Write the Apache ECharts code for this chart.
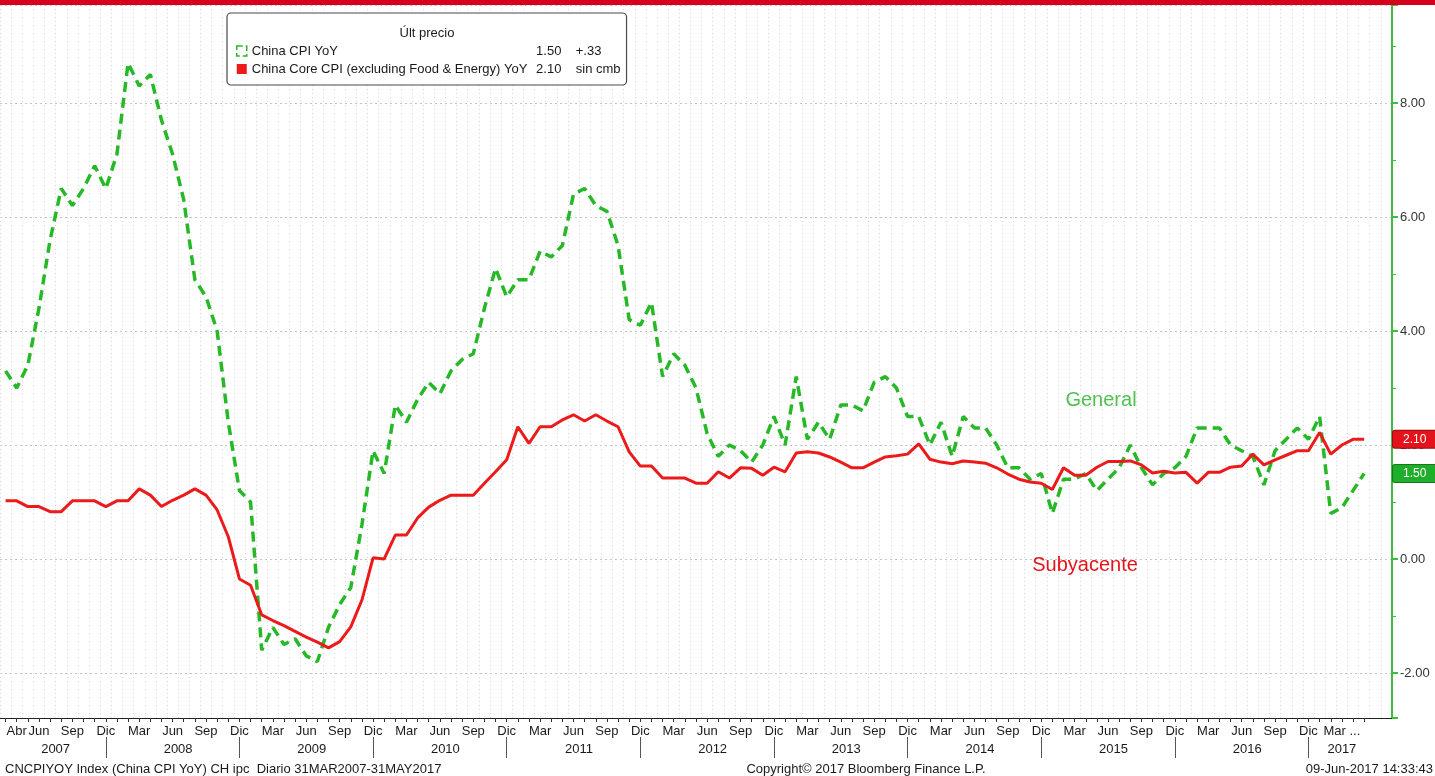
<!DOCTYPE html>
<html>
<head>
<meta charset="utf-8">
<title>China CPI YoY</title>
<script src="https://cdn.jsdelivr.net/npm/echarts@6/dist/echarts.min.js"></script>
<style>
  html, body { margin: 0; padding: 0; background: #fff; }
  #chart { width: 1435px; height: 776px; }
</style>
</head>
<body>
<div id="chart"></div>
<script>
// meses: mar-2007 .. jul-2017 (jun/jul 2017 sin dato, solo hueco antes del eje)
const years = ["2007", "2008", "2009", "2010", "2011", "2012", "2013", "2014", "2015", "2016", "2017"];
const monthNames = ["Ene", "Feb", "Mar", "Abr", "May", "Jun", "Jul", "Ago", "Sep", "Oct", "Nov", "Dic"];
const months = [];
years.forEach(y => {
  for (let m = 1; m <= 12; m++) {
    if ((y === "2007" && m < 3) || (y === "2017" && m > 7)) continue;
    months.push(y + "-" + String(m).padStart(2, "0"));
  }
});

// China CPI YoY
const cpi = [
  3.3, 3.0, 3.4, 4.4, 5.6, 6.5, 6.2, 6.5, 6.9, 6.5,
  7.1, 8.7, 8.3, 8.5, 7.7, 7.1, 6.3, 4.9, 4.6, 4.0, 2.4, 1.2,
  1.0, -1.6, -1.2, -1.5, -1.4, -1.7, -1.8, -1.2, -0.8, -0.5, 0.6, 1.9,
  1.5, 2.7, 2.4, 2.8, 3.1, 2.9, 3.3, 3.5, 3.6, 4.4, 5.1, 4.6,
  4.9, 4.9, 5.4, 5.3, 5.5, 6.4, 6.5, 6.2, 6.1, 5.5, 4.2, 4.1,
  4.5, 3.2, 3.6, 3.4, 3.0, 2.2, 1.8, 2.0, 1.9, 1.7, 2.0, 2.5,
  2.0, 3.2, 2.1, 2.4, 2.1, 2.7, 2.7, 2.6, 3.1, 3.2, 3.0, 2.5,
  2.5, 2.0, 2.4, 1.8, 2.5, 2.3, 2.3, 2.0, 1.6, 1.6, 1.4, 1.5,
  0.8, 1.4, 1.4, 1.5, 1.2, 1.4, 1.6, 2.0, 1.6, 1.3, 1.5, 1.6,
  1.8, 2.3, 2.3, 2.3, 2.0, 1.9, 1.8, 1.3, 1.9, 2.1, 2.3, 2.1,
  2.5, 0.8, 0.9, 1.2, 1.5
];

// China Core CPI (excluding Food & Energy) YoY
const core = [
  1.02, 1.02, 0.92, 0.92, 0.83, 0.83, 1.02, 1.02, 1.02, 0.92,
  1.02, 1.02, 1.23, 1.12, 0.92, 1.03, 1.12, 1.23, 1.12, 0.86, 0.39, -0.35,
  -0.46, -0.98, -1.08, -1.17, -1.27, -1.37, -1.46, -1.56, -1.45, -1.19, -0.72, 0.02,
  0.0, 0.42, 0.42, 0.72, 0.91, 1.03, 1.12, 1.12, 1.12, 1.33, 1.53, 1.74,
  2.32, 2.03, 2.32, 2.32, 2.44, 2.53, 2.42, 2.53, 2.42, 2.32, 1.88, 1.63,
  1.63, 1.42, 1.42, 1.42, 1.33, 1.33, 1.53, 1.42, 1.6, 1.59, 1.47, 1.61,
  1.53, 1.86, 1.88, 1.86, 1.79, 1.7, 1.6, 1.6, 1.7, 1.79, 1.81, 1.84,
  2.02, 1.75, 1.7, 1.67, 1.72, 1.7, 1.68, 1.6, 1.49, 1.4, 1.35, 1.33,
  1.22, 1.6, 1.47, 1.47, 1.61, 1.71, 1.71, 1.72, 1.65, 1.51, 1.54, 1.51,
  1.52, 1.33, 1.52, 1.52, 1.61, 1.63, 1.84, 1.65, 1.74, 1.82, 1.9, 1.9,
  2.22, 1.84, 2.0, 2.1, 2.1
];

const seriesNames = ["China CPI YoY", "China Core CPI (excluding Food & Energy) YoY"];
const lastPrice = ["1.50", "2.10"];
const change = ["+.33", "sin cmb"];

const GREEN = "#27b827";
const RED = "#ec1a1a";
const FONT = '"Liberation Sans", Arial, sans-serif';

// etiqueta del año centrada en sus meses con dato
const yearAt = {};
years.forEach(y => {
  const idx = [];
  months.forEach((k, i) => { if (k.startsWith(y) && i < cpi.length) idx.push(i); });
  const mid = (idx[0] + idx[idx.length - 1]) / 2;
  yearAt[Math.floor(mid)] = { year: y, half: mid % 1 !== 0 };
});
// última etiqueta trimestral con dato lleva "..."
let lastQuarter = 0;
months.forEach((k, i) => { if (i < cpi.length && +k.slice(5) % 3 === 0) lastQuarter = i; });

function showMonth(i, k) {
  if (i === 0) return false;
  if (i === 1) return true;
  return +k.slice(5) % 3 === 0 && i < cpi.length;
}

const chart = echarts.init(document.getElementById("chart"));

const option = {
  backgroundColor: "#fff",
  animation: false,
  grid: { left: 0, right: 43, top: 5, bottom: 58 },
  legend: {
    left: 227,
    top: 13,
    orient: "vertical",
    selectedMode: false,
    padding: [30, 6, 8, 9],
    itemGap: 2,
    itemWidth: 10,
    itemHeight: 10,
    backgroundColor: "#fff",
    borderColor: "#4a4a4a",
    borderWidth: 1.2,
    borderRadius: 4,
    data: [
      { name: seriesNames[0], icon: "rect", itemStyle: { color: "#fff", borderColor: GREEN, borderWidth: 1.5, borderType: "dashed" } },
      { name: seriesNames[1], icon: "rect", itemStyle: { color: RED } },
    ],
    textStyle: {
      fontFamily: FONT,
      fontSize: 13,
      color: "#1a1a1a",
      lineHeight: 16,
      rich: {
        n: { width: 282, fontFamily: FONT, fontSize: 13 },
        v: { width: 30, align: "right", fontFamily: FONT, fontSize: 13 },
        c: { padding: [0, 0, 0, 12], fontFamily: FONT, fontSize: 13 },
      },
    },
    formatter: name => {
      const i = seriesNames.indexOf(name);
      return "{n|" + name + "}{v|" + lastPrice[i] + "}{c|" + change[i] + "}";
    },
  },
  xAxis: [
    {
      type: "category",
      data: months,
      boundaryGap: true,
      axisLine: { show: true, onZero: false, lineStyle: { color: "#222", width: 1 } },
      axisTick: { show: true, interval: i => i < cpi.length, alignWithLabel: true, length: 4, lineStyle: { color: "#333" } },
      axisLabel: {
        interval: (i, k) => showMonth(i, k),
        formatter: (k, i) => monthNames[+k.slice(5) - 1] + (i === lastQuarter ? " ..." : ""),
        color: "#1a1a1a",
        fontFamily: FONT,
        fontSize: 13,
        margin: 7,
      },
      splitLine: { show: true, interval: 0, lineStyle: { color: "#d4d4d4", type: [1, 3], width: 1 } },
    },
    {
      type: "category",
      data: months,
      position: "bottom",
      offset: 19,
      boundaryGap: true,
      axisLine: { show: false, onZero: false },
      axisTick: {
        show: true,
        interval: (i, k) => k.endsWith("-12"),
        alignWithLabel: true,
        length: 21,
        lineStyle: { color: "#555" },
      },
      axisLabel: {
        interval: i => !!yearAt[i],
        formatter: (k, i) => (yearAt[i] ? (yearAt[i].half ? "{h|" : "{f|") + yearAt[i].year + "}" : ""),
        color: "#1a1a1a",
        fontFamily: FONT,
        fontSize: 13,
        margin: 6,
        rich: {
          h: { padding: [0, 0, 0, 11], fontFamily: FONT, fontSize: 13, color: "#1a1a1a" },
          f: { fontFamily: FONT, fontSize: 13, color: "#1a1a1a" },
        },
      },
      splitLine: { show: false },
    },
  ],
  yAxis: {
    type: "value",
    position: "right",
    min: -2.79,
    max: 9.72,
    splitNumber: 6,
    axisLine: { show: true, lineStyle: { color: "#3cbf3c", width: 2 } },
    axisTick: { show: true, inside: false, length: 6, lineStyle: { color: "#3cbf3c", width: 2 } },
    minorTick: { show: true, splitNumber: 2, length: 4, lineStyle: { color: "#3cbf3c", width: 1 } },
    axisLabel: {
      formatter: v => v.toFixed(2),
      color: "#333",
      fontFamily: FONT,
      fontSize: 13,
      margin: 8,
      showMinLabel: false,
      showMaxLabel: false,
    },
    splitLine: { show: true, lineStyle: { color: "#c4c4c4", type: [2, 3], width: 1 } },
  },
  series: [
    {
      name: seriesNames[0],
      type: "line",
      data: cpi,
      showSymbol: false,
      z: 2,
      lineStyle: { color: GREEN, width: 3.5, type: [10, 6] },
      itemStyle: { color: GREEN },
      markLine: {
        silent: true,
        symbol: ["none", "none"],
        lineStyle: { color: "transparent", width: 0 },
        data: [{ yAxis: cpi[cpi.length - 1] }],
        label: {
          show: true,
          position: "end",
          distance: 1,
          formatter: () => lastPrice[0],
          color: "#fff",
          fontFamily: FONT,
          fontSize: 12,
          backgroundColor: "#1fae2c",
          borderColor: "#137a1c",
          borderWidth: 1,
          borderRadius: [2, 0, 0, 2],
          padding: [3, 9, 2, 10],
        },
      },
    },
    {
      name: seriesNames[1],
      type: "line",
      data: core,
      showSymbol: false,
      z: 3,
      lineStyle: { color: RED, width: 3 },
      itemStyle: { color: RED },
      markLine: {
        silent: true,
        symbol: ["none", "none"],
        lineStyle: { color: "transparent", width: 0 },
        data: [{ yAxis: core[core.length - 1] }],
        label: {
          show: true,
          position: "end",
          distance: 1,
          formatter: () => lastPrice[1],
          color: "#fff",
          fontFamily: FONT,
          fontSize: 12,
          backgroundColor: "#e3121b",
          borderColor: "#9e0b10",
          borderWidth: 1,
          borderRadius: [2, 0, 0, 2],
          padding: [3, 9, 2, 10],
        },
      },
    },
  ],
  graphic: [
    { type: "rect", left: 0, top: 0, z: 100, shape: { width: 1435, height: 5 }, style: { fill: "#d4001c" } },
    { type: "text", x: 427, y: 33, z: 100, style: { text: "Últ precio", font: "13px " + FONT, fill: "#1a1a1a", align: "center", verticalAlign: "middle" } },
    { type: "text", x: 1101, y: 400, z: 100, style: { text: "General", font: "20px " + FONT, fill: "#52c152", align: "center", verticalAlign: "middle" } },
    { type: "text", x: 1085, y: 565, z: 100, style: { text: "Subyacente", font: "20px " + FONT, fill: "#e8141b", align: "center", verticalAlign: "middle" } },
    { type: "text", x: 5, y: 769, z: 100, style: { text: "CNCPIYOY Index (China CPI YoY) CH ipc  Diario 31MAR2007-31MAY2017", font: "13px " + FONT, fill: "#1a1a1a", align: "left", verticalAlign: "middle" } },
    { type: "text", x: 866, y: 769, z: 100, style: { text: "Copyright© 2017 Bloomberg Finance L.P.", font: "13px " + FONT, fill: "#1a1a1a", align: "center", verticalAlign: "middle" } },
    { type: "text", x: 1433, y: 769, z: 100, style: { text: "09-Jun-2017 14:33:43", font: "13px " + FONT, fill: "#1a1a1a", align: "right", verticalAlign: "middle" } },
  ],
};

chart.setOption(option);
window.onresize = function () {
  chart.resize();
};
</script>
</body>
</html>
